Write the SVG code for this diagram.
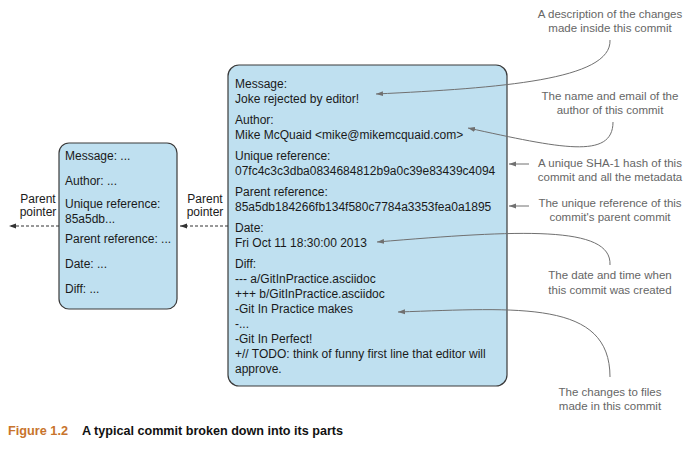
<svg xmlns="http://www.w3.org/2000/svg" width="687" height="455" viewBox="0 0 687 455">
<style>
.box{fill:#bfe0f0;stroke:#3a3a3a;stroke-width:1.2}
.t{font-family:"Liberation Sans",Arial,sans-serif;font-size:12px;fill:#1a1a1a}
.a{font-family:"Liberation Sans",Arial,sans-serif;font-size:11.5px;fill:#666;text-anchor:middle}
.pp{font-family:"Liberation Sans",Arial,sans-serif;font-size:12px;fill:#1a1a1a;text-anchor:middle}
.con{fill:none;stroke:#707070;stroke-width:1}
.dash{fill:none;stroke:#333;stroke-width:1;stroke-dasharray:3 2}
.cap{font-family:"Liberation Sans",Arial,sans-serif;font-size:12px;font-weight:bold}
</style>
<defs>
<marker id="ag" markerWidth="8" markerHeight="6" refX="7" refY="3" orient="auto" markerUnits="userSpaceOnUse">
<path d="M0,0.5 L7,3 L0,5.5 Z" fill="#707070"/>
</marker>
<marker id="ab" markerWidth="8" markerHeight="6" refX="7" refY="3" orient="auto" markerUnits="userSpaceOnUse">
<path d="M0,0.5 L7,3 L0,5.5 Z" fill="#333"/>
</marker>
</defs>
<rect width="687" height="455" fill="#fff"/>

<g id="commit-main">
<rect class="box" x="228" y="65" width="279" height="321" rx="11"/>
<text class="t" x="235" y="88">Message:</text>
<text class="t" x="235" y="103">Joke rejected by editor!</text>
<text class="t" x="235" y="124">Author:</text>
<text class="t" x="235" y="139">Mike McQuaid &lt;mike@mikemcquaid.com&gt;</text>
<text class="t" x="235" y="160">Unique reference:</text>
<text class="t" x="235" y="175">07fc4c3c3dba0834684812b9a0c39e83439c4094</text>
<text class="t" x="235" y="196">Parent reference:</text>
<text class="t" x="235" y="211">85a5db184266fb134f580c7784a3353fea0a1895</text>
<text class="t" x="235" y="232">Date:</text>
<text class="t" x="235" y="247">Fri Oct 11 18:30:00 2013</text>
<text class="t" x="235" y="268">Diff:</text>
<text class="t" x="235" y="283">--- a/GitInPractice.asciidoc</text>
<text class="t" x="235" y="298">+++ b/GitInPractice.asciidoc</text>
<text class="t" x="235" y="313">-Git In Practice makes</text>
<text class="t" x="235" y="328">-...</text>
<text class="t" x="235" y="343">-Git In Perfect!</text>
<text class="t" x="235" y="358">+// TODO: think of funny first line that editor will</text>
<text class="t" x="235" y="373">approve.</text>
</g>

<g id="commit-parent">
<rect class="box" x="59" y="143" width="118" height="166" rx="10"/>
<text class="t" x="65" y="160">Message: ...</text>
<text class="t" x="65" y="185">Author: ...</text>
<text class="t" x="65" y="208">Unique reference:</text>
<text class="t" x="65" y="223">85a5db...</text>
<text class="t" x="65" y="243">Parent reference: ...</text>
<text class="t" x="65" y="268">Date: ...</text>
<text class="t" x="65" y="293">Diff: ...</text>
</g>

<g id="label-pointer-left">
<text class="pp" x="38" y="203">Parent</text>
<text class="pp" x="38" y="216">pointer</text>
</g>
<g id="label-pointer-right">
<text class="pp" x="205" y="203">Parent</text>
<text class="pp" x="205" y="216">pointer</text>
</g>

<g id="note-message"><text class="a" x="610" y="18">A description of the changes</text><text class="a" x="610" y="32">made inside this commit</text></g>
<g id="note-author"><text class="a" x="610" y="100">The name and email of the</text><text class="a" x="610" y="114">author of this commit</text></g>
<g id="note-unique"><text class="a" x="610" y="167">A unique SHA-1 hash of this</text><text class="a" x="610" y="181">commit and all the metadata</text></g>
<g id="note-parent"><text class="a" x="610" y="207">The unique reference of this</text><text class="a" x="610" y="221">commit's parent commit</text></g>
<g id="note-date"><text class="a" x="610" y="279">The date and time when</text><text class="a" x="610" y="294">this commit was created</text></g>
<g id="note-diff"><text class="a" x="610" y="396">The changes to files</text><text class="a" x="610" y="410">made in this commit</text></g>

<g id="connectors">
<path class="dash" d="M59,226 L9,226" marker-end="url(#ab)"/>
<path class="dash" d="M228,226 L180,226" marker-end="url(#ab)"/>
<path class="con" d="M610,40 C612,80 500,88 376,94" marker-end="url(#ag)"/>
<path class="con" d="M613,122 C613,160 560,148 468,128" marker-end="url(#ag)"/>
<path class="con" d="M529,164 L509,164" marker-end="url(#ag)"/>
<path class="con" d="M529,206 L509,206" marker-end="url(#ag)"/>
<path class="con" d="M610,265 C612,225 520,230 377,242" marker-end="url(#ag)"/>
<path class="con" d="M610,377 C610,300 520,308 398,312" marker-end="url(#ag)"/>
</g>

<g id="caption">
<text class="cap" x="8" y="435" fill="#c8742c" textLength="60" lengthAdjust="spacingAndGlyphs">Figure 1.2</text>
<text class="cap" x="82" y="435" fill="#111" textLength="261" lengthAdjust="spacingAndGlyphs">A typical commit broken down into its parts</text>
</g>
</svg>
